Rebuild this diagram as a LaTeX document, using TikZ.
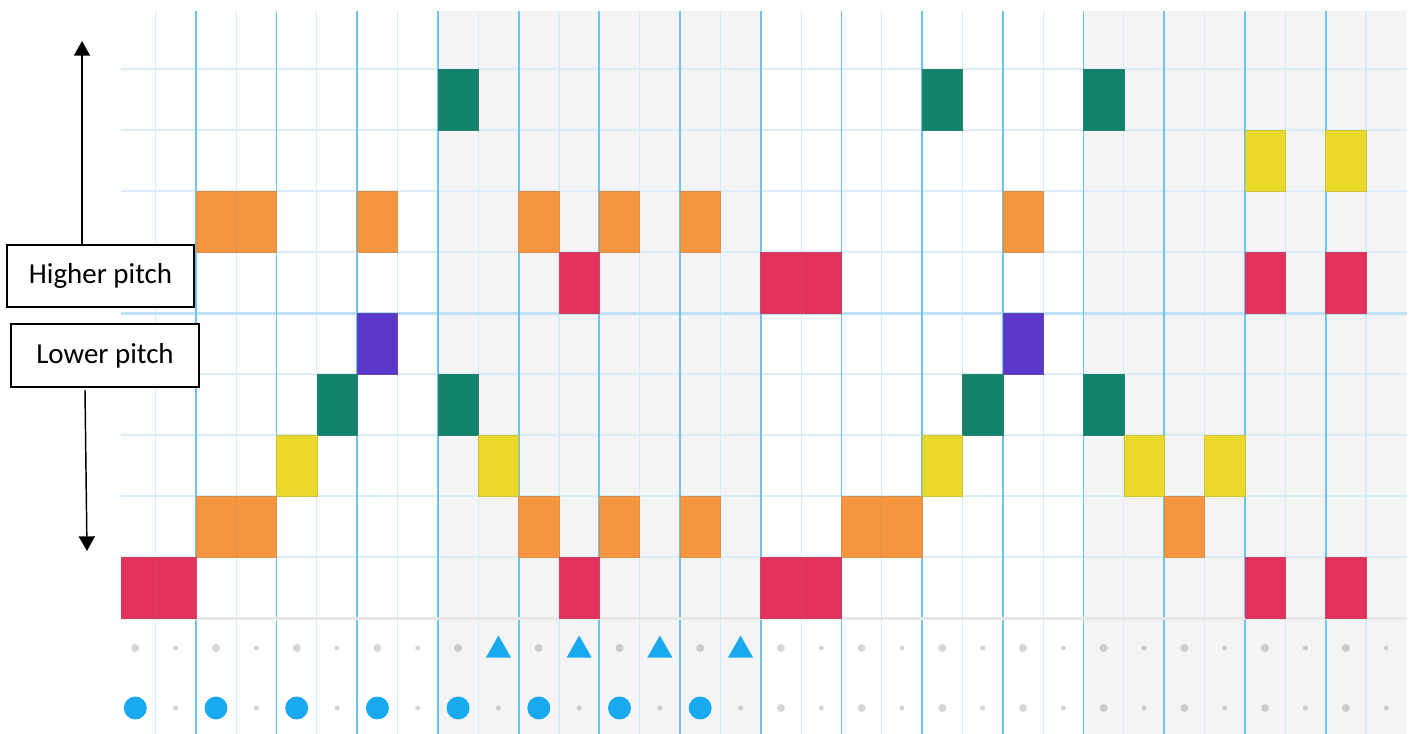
\documentclass[tikz,border=0pt]{standalone}
\usepackage{fontspec}
\setmainfont{Carlito}
\usetikzlibrary{arrows.meta, positioning, calc}
\definecolor{rollteal}{HTML}{12826C}
\definecolor{rollyellow}{HTML}{EAD82A}
\definecolor{rollorange}{HTML}{F5953F}
\definecolor{rollred}{HTML}{E2315A}
\definecolor{rollpurple}{HTML}{5B37C9}
\definecolor{rollshade}{HTML}{F4F4F4}
\definecolor{rollbar}{HTML}{6CC3F0}
\definecolor{rollbeat}{HTML}{D3ECFA}
\definecolor{rollrow}{HTML}{D8EDF8}
\definecolor{rollfloor}{HTML}{E6E6E6}
\definecolor{rollblue}{HTML}{19A9EF}
\tikzset{
  pitchbox/.style={draw=black, line width=1.3pt, fill=white, inner sep=0pt,
    minimum width=140.5pt, minimum height=46.5pt,
    font=\fontsize{21.7}{26}\selectfont},
  pitcharrow/.style={line width=1.1pt, -{Triangle[width=12pt, length=11pt]}},
  notecell/.style={fill=#1, draw=#1!75!gray, line width=0.5pt},
  greydot/.style={fill=black, fill opacity=0.16}
}

\begin{document}
\begin{tikzpicture}[x=0.75pt, y=-0.75pt]
  \useasboundingbox (0,0) rectangle (1411,734);
  \begin{scope}
    \clip (121,11) rectangle (1407,734);
    % shaded bars
    \fill[rollshade] (437.95,11) rectangle (760.75,734);
    \fill[rollshade] (1083.55,11) rectangle (1406.35,734);
    % beat lines
    \foreach \k in {0,2,...,30}{
      \draw[rollbeat, line width=0.8pt] ({155.5+\k*40.35},11) -- ({155.5+\k*40.35},734);
    }
    % pitch rows
    \foreach \j in {0,...,8}{
      \draw[rollrow, line width=1.5pt] (121,{69+\j*61}) -- (1407,{69+\j*61});
    }
    \draw[rollrow!75!rollbar, line width=2.8pt] (121,313.5) -- (1407,313.5);
    % bar lines
    \foreach \k in {1,3,...,29}{
      \draw[rollbar, line width=1.4pt] ({155.5+\k*40.35},11) -- ({155.5+\k*40.35},734);
    }
    \draw[rollfloor, line width=2.5pt] (121,618.5) -- (1407,618.5);
    % notes
    \foreach \i/\r/\c in {8/1/rollteal, 20/1/rollteal, 24/1/rollteal,
        28/2/rollyellow, 30/2/rollyellow,
        2/3/rollorange, 3/3/rollorange, 6/3/rollorange, 10/3/rollorange,
        12/3/rollorange, 14/3/rollorange, 22/3/rollorange,
        11/4/rollred, 16/4/rollred, 17/4/rollred, 28/4/rollred, 30/4/rollred,
        6/5/rollpurple, 22/5/rollpurple,
        5/6/rollteal, 8/6/rollteal, 21/6/rollteal, 24/6/rollteal,
        4/7/rollyellow, 9/7/rollyellow, 20/7/rollyellow, 25/7/rollyellow, 27/7/rollyellow,
        2/8/rollorange, 3/8/rollorange, 10/8/rollorange, 12/8/rollorange,
        14/8/rollorange, 18/8/rollorange, 19/8/rollorange, 26/8/rollorange,
        0/9/rollred, 1/9/rollred, 11/9/rollred, 16/9/rollred, 17/9/rollred,
        28/9/rollred, 30/9/rollred}{
      \filldraw[notecell=\c] ({115.15+\i*40.35},{8+\r*61}) rectangle ++(40.35,61);
    }
    % beat markers
    \foreach \i in {0,2,...,30}{
      \fill[greydot] ({135.3+\i*40.35},648) circle[radius=3pt];
    }
    \foreach \i in {1,3,5,7,17,19,21,23,25,27,29,31}{
      \fill[greydot] ({135.3+\i*40.35},648) circle[radius=1.9pt];
    }
    \foreach \i in {9,11,13,15}{
      \fill[rollblue] ({135.3+\i*40.35-12.5},657.5) -- ++(25,0) -- ++(-12.5,-22) -- cycle;
    }
    \foreach \i in {0,2,...,14}{
      \fill[rollblue] ({135.3+\i*40.35},708) circle[radius=8.6pt];
    }
    \foreach \i in {16,18,...,30}{
      \fill[greydot] ({135.3+\i*40.35},708) circle[radius=3pt];
    }
    \foreach \i in {1,3,...,31}{
      \fill[greydot] ({135.3+\i*40.35},708) circle[radius=1.9pt];
    }
  \end{scope}
  % labels
  \node[pitchbox] (hi) at (100.5,276) {Higher pitch};
  \node[pitchbox, minimum width=141pt, minimum height=47pt] (lo) at (105,355.5) {Lower pitch};
  \coordinate (uptip) at (82,41);
  \coordinate (downtail) at (85,390);
  \coordinate (downtip) at (87,551);
  \draw[pitcharrow] (hi.north -| uptip) -- (uptip);
  \draw[pitcharrow] (downtail) -- (downtip);
\end{tikzpicture}
\end{document}
